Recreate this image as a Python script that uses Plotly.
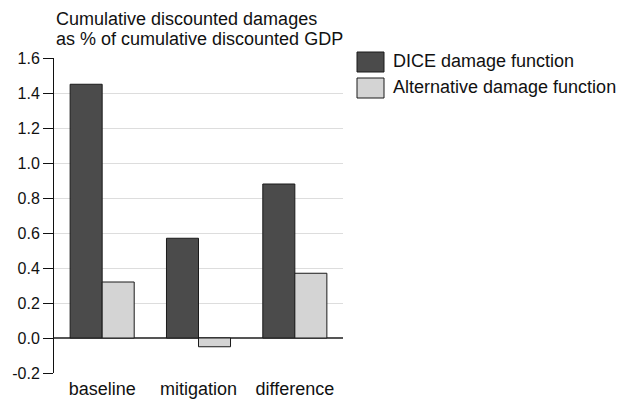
import plotly.graph_objects as go

categories = ["baseline", "mitigation", "difference"]
dice_values = [1.45, 0.57, 0.88]
alt_values = [0.32, -0.05, 0.37]
series_names = ["DICE damage function", "Alternative damage function"]
y_tickvals = [-0.2, 0.0, 0.2, 0.4, 0.6, 0.8, 1.0, 1.2, 1.4, 1.6]
y_ticktext = ["-0.2", "0.0", "0.2", "0.4", "0.6", "0.8", "1.0", "1.2", "1.4", "1.6"]
title_lines = ["Cumulative discounted damages", "as % of cumulative discounted GDP"]

dice_color = "#4b4b4b"
alt_color = "#d4d4d4"
edge = "#1a1a1a"
font = "Liberation Sans, Arial, sans-serif"

# plot area in pixels
L, R, T, B = 54, 343, 58, 373
W, H = R - L, B - T


def px(x):
    return (x - L) / W


def py(y):
    return (B - y) / H


fig = go.Figure()
fig.add_trace(go.Bar(x=categories, y=dice_values, name=series_names[0],
                     marker=dict(color=dice_color, line=dict(color=edge, width=1))))
fig.add_trace(go.Bar(x=categories, y=alt_values, name=series_names[1],
                     marker=dict(color=alt_color, line=dict(color=edge, width=1))))

fig.update_layout(
    width=623, height=400,
    margin=dict(l=L, r=623 - R, t=T, b=400 - B, autoexpand=False),
    paper_bgcolor="white", plot_bgcolor="white",
    barmode="group", bargap=0.335, bargroupgap=0,
    showlegend=False,
    font=dict(family=font, size=18, color="#111"),
    xaxis=dict(range=[-0.5, 2.5], showline=False, ticks="", showgrid=False,
               automargin=False, tickfont=dict(size=18), ticklabelstandoff=3),
    yaxis=dict(range=[-0.2, 1.6], tickvals=y_tickvals, ticktext=y_ticktext,
               automargin=False,
               showline=True, linecolor="#111", linewidth=1,
               ticks="outside", ticklen=10, tickcolor="#111", tickwidth=1,
               showgrid=True, gridcolor="#dddddd", gridwidth=1,
               zeroline=True, zerolinecolor="#555555", zerolinewidth=1.5,
               tickfont=dict(size=16)),
)

for i, line in enumerate(title_lines):
    fig.add_annotation(text=line, xref="paper", yref="paper",
                       x=px(54), y=py(19 + 20 * i), xanchor="left", yanchor="middle",
                       showarrow=False, align="left", font=dict(size=18))

# custom legend
legend_colors = [dice_color, alt_color]
for i, (nm, col) in enumerate(zip(series_names, legend_colors)):
    top = 52 + 26 * i
    fig.add_shape(type="rect", xref="paper", yref="paper",
                  x0=px(357), x1=px(384), y0=py(top + 20), y1=py(top),
                  fillcolor=col, line=dict(color=edge, width=1))
    fig.add_annotation(text=nm, xref="paper", yref="paper",
                       x=px(391), y=py(top + 9),
                       xanchor="left", yanchor="middle", showarrow=False,
                       font=dict(size=18))

fig.write_html("out.html", config={"displayModeBar": False},
               post_script="document.body.style.margin='0';document.body.style.overflow='hidden';")
